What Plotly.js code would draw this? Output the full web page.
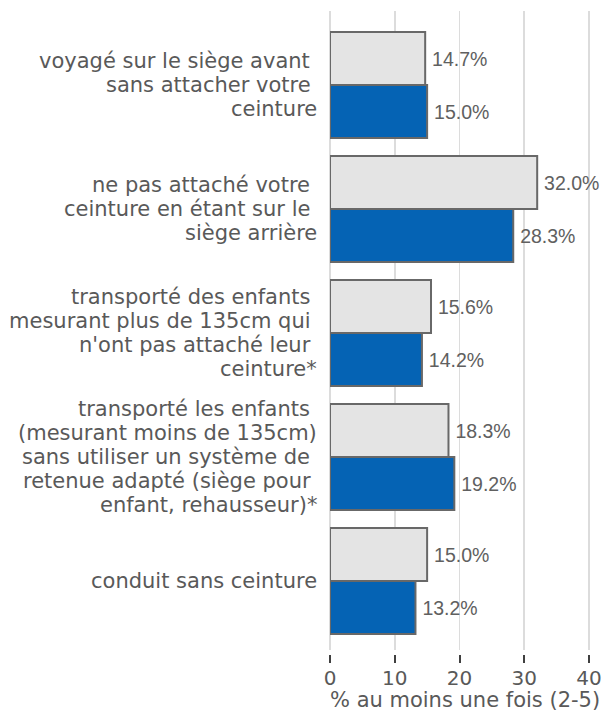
<!DOCTYPE html>
<html>
<head>
<meta charset="utf-8">
<script src="https://cdn.plot.ly/plotly-3.0.1.min.js"></script>
<style>html,body{margin:0;padding:0;background:#fff;}</style>
</head>
<body>
<div id="chart" style="width:606px;height:716px;"></div>
<script>
// Category labels, one array of wrapped lines per category (as in the source chart)
const categoryLines = [
  ['voyagé sur le siège avant ', 'sans attacher votre ', 'ceinture'],
  ['ne pas attaché votre ', 'ceinture en étant sur le ', 'siège arrière'],
  ['transporté des enfants ', 'mesurant plus de 135cm qui ', "n'ont pas attaché leur ", 'ceinture*'],
  ['transporté les enfants ', '(mesurant moins de 135cm)', 'sans utiliser un système de ', 'retenue adapté (siège pour ', 'enfant, rehausseur)*'],
  ['conduit sans ceinture']
];
const categories = categoryLines.map(l => l.join('').trim());
const seriesGrey = [14.7, 32.0, 15.6, 18.3, 15.0];
const seriesBlue = [15.0, 28.3, 14.2, 19.2, 13.2];
const xTicks = [0, 10, 20, 30, 40];
const xTitle = '% au moins une fois (2-5)';

const labelFont = 'DejaVu Sans';
const valueFont = 'Liberation Sans, Arial, sans-serif';
const textGrey = '#595959';

const traces = [
  {
    type: 'bar', orientation: 'h', name: 'Série grise',
    y: categories.map((c, i) => i), x: seriesGrey,
    marker: {color: '#e4e4e4', line: {color: '#686868', width: 2}},
    texttemplate: '\u2009%{x:.1f}%', textposition: 'outside', cliponaxis: false,
    textfont: {family: valueFont, size: 19.5, color: '#606060'},
    hoverinfo: 'skip'
  },
  {
    type: 'bar', orientation: 'h', name: 'Série bleue',
    y: categories.map((c, i) => i), x: seriesBlue,
    marker: {color: '#0563b4', line: {color: '#686868', width: 2}},
    texttemplate: '\u2009%{x:.1f}%', textposition: 'outside', cliponaxis: false,
    textfont: {family: valueFont, size: 19.5, color: '#606060'},
    hoverinfo: 'skip'
  }
];

const lineSpacing = 24;
const annotations = [];
categoryLines.forEach((lines, ci) => {
  const n = lines.length;
  lines.forEach((ln, li) => {
    annotations.push({
      xref: 'paper', yref: 'y', x: 0, y: ci,
      xanchor: 'right', yanchor: 'middle', xshift: -11,
      yshift: ((n - 1) / 2 - li) * lineSpacing,
      text: ln.replace(/ $/, '\u00a0'), showarrow: false,
      font: {family: labelFont, size: 21, color: textGrey}
    });
  });
});
// axis title
annotations.push({
  xref: 'paper', yref: 'paper', x: 0.5, y: 0, yshift: -50,
  xanchor: 'center', yanchor: 'middle', showarrow: false,
  text: xTitle, font: {family: labelFont, size: 21, color: textGrey}
});

const plotH = 716 - 11 - 66;
const layout = {
  width: 606, height: 716,
  margin: {l: 330, r: 6, t: 11, b: 66},
  paper_bgcolor: '#ffffff', plot_bgcolor: '#ffffff',
  showlegend: false,
  barmode: 'group', bargap: 0.145, bargroupgap: 0,
  xaxis: {
    range: [0, 41.7], tickvals: xTicks, ticktext: xTicks.map(String),
    showgrid: true, gridcolor: '#dcdcdc', gridwidth: 1.5,
    zeroline: true, zerolinecolor: '#dcdcdc', zerolinewidth: 1.5,
    showline: false, ticks: 'outside', ticklen: 12, tickwidth: 2, tickcolor: '#404040',
    ticklabelstandoff: -2,
    tickfont: {family: labelFont, size: 20, color: textGrey},
    automargin: false, fixedrange: true
  },
  yaxis: {
    range: [4.556, -0.597], showticklabels: false, showgrid: false,
    zeroline: false, showline: false, ticks: '', fixedrange: true
  },
  // white band separating gridline ends from the tick marks, as in the source
  shapes: [{
    type: 'rect', xref: 'paper', yref: 'paper', layer: 'above',
    x0: -0.01, x1: 1.01, y0: -5 / plotH, y1: -0.5 / plotH,
    fillcolor: '#ffffff', line: {width: 0}
  }],
  annotations: annotations
};

Plotly.newPlot('chart', traces, layout, {displayModeBar: false, staticPlot: true});
</script>
</body>
</html>
